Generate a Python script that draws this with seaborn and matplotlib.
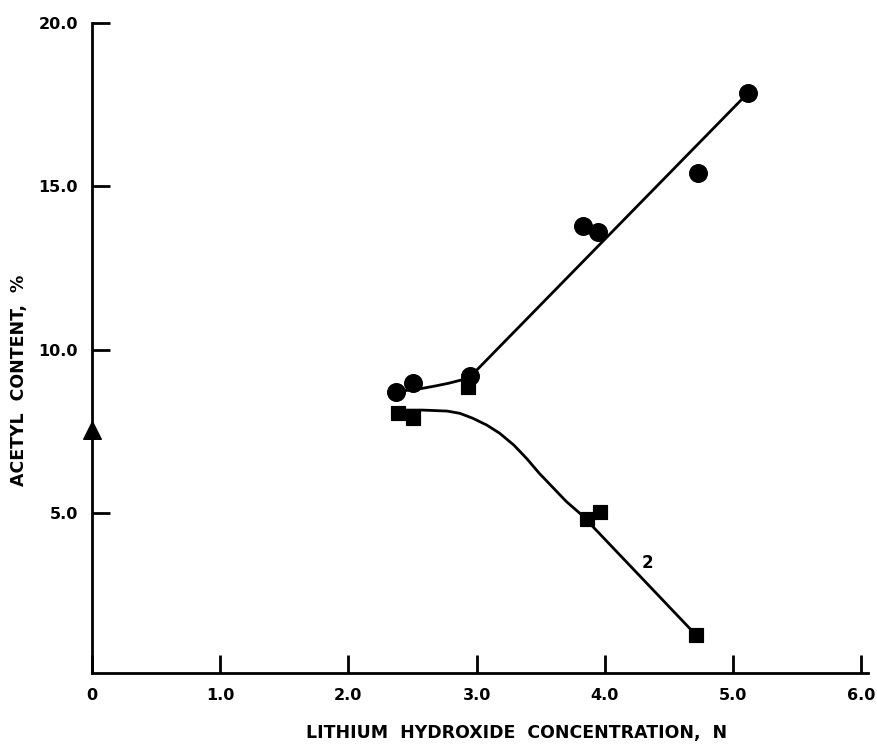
import pandas as pd
import matplotlib
matplotlib.use("Agg")
import matplotlib.pyplot as plt
import seaborn as sns

circle_x = [2.37, 2.50, 2.95, 3.83, 3.95, 4.73, 5.12]
circle_y = [8.70, 8.98, 9.19, 13.78, 13.60, 15.40, 17.87]
square_x = [2.39, 2.50, 2.93, 3.86, 3.96, 4.71]
square_y = [8.06, 7.90, 8.85, 4.82, 5.03, 1.27]
triangle_x = [0.0]
triangle_y = [7.54]

# hand-drawn curves, points
curve1_x = [2.38, 2.47, 2.57, 2.68, 2.78, 2.88, 2.95, 3.00, 5.12]
curve1_y = [8.71, 8.76, 8.81, 8.89, 8.97, 9.07, 9.17, 9.37, 17.87]
curve2_x = [2.40, 2.58, 2.77, 2.87, 2.97, 3.08, 3.18, 3.29, 3.39, 3.49, 3.60, 3.70, 3.82, 4.71]
curve2_y = [8.15, 8.15, 8.12, 8.05, 7.90, 7.69, 7.44, 7.08, 6.67, 6.21, 5.76, 5.35, 4.94, 1.27]

x_ticks = [0, 1, 2, 3, 4, 5, 6]
x_labels = ["0", "1.0", "2.0", "3.0", "4.0", "5.0", "6.0"]
y_ticks = [5, 10, 15, 20]
y_labels = ["5.0", "10.0", "15.0", "20.0"]

sns.set_style("ticks", {"axes.edgecolor": "black", "text.color": "black",
                        "axes.labelcolor": "black", "xtick.color": "black",
                        "ytick.color": "black"})
plt.rcParams["font.family"] = ["DejaVu Sans"]
plt.rcParams["font.weight"] = "bold"

fig = plt.figure(figsize=(8.77, 7.45), dpi=100)
ax = fig.add_axes([0.1049, 0.0966, 0.8844, 0.8725])

c1 = pd.DataFrame({"x": curve1_x, "y": curve1_y})
c2 = pd.DataFrame({"x": curve2_x, "y": curve2_y})
sns.lineplot(data=c1, x="x", y="y", sort=False, color="black", linewidth=2.0, ax=ax)
sns.lineplot(data=c2, x="x", y="y", sort=False, color="black", linewidth=2.0, ax=ax)

sns.scatterplot(x=circle_x, y=circle_y, marker="o", s=160, color="black", edgecolor="black", ax=ax, zorder=3)
sns.scatterplot(x=square_x, y=square_y, marker="s", s=110, color="black", edgecolor="black", ax=ax, zorder=3)
sns.scatterplot(x=triangle_x, y=triangle_y, marker="^", s=160, color="black", edgecolor="black", ax=ax, zorder=3, clip_on=False)

ax.text(4.33, 3.47, "2", fontsize=12, fontweight="bold", ha="center", va="center", color="black")

ax.set_xlim(0, 6.05)
ax.set_ylim(0.1, 20)
ax.set_xticks(x_ticks)
ax.set_xticklabels(x_labels)
ax.set_yticks(y_ticks)
ax.set_yticklabels(y_labels)
ax.tick_params(axis="both", direction="in", length=13, width=2, labelsize=11.5, pad=10, colors="black")
ax.tick_params(axis="x", pad=11)
for lbl in ax.get_xticklabels() + ax.get_yticklabels():
    lbl.set_fontweight("bold")

sns.despine(ax=ax)
ax.spines["left"].set_linewidth(2)
ax.spines["bottom"].set_linewidth(2)

ax.set_xlabel("LITHIUM  HYDROXIDE  CONCENTRATION,  N", fontsize=12.5, fontweight="bold", color="black")
ax.xaxis.set_label_coords(0.547, -0.078)
ax.set_ylabel("ACETYL  CONTENT,  %", fontsize=12.5, fontweight="bold", color="black")
ax.yaxis.set_label_coords(-0.082, 0.45)

fig.savefig("out.png", dpi=100)
